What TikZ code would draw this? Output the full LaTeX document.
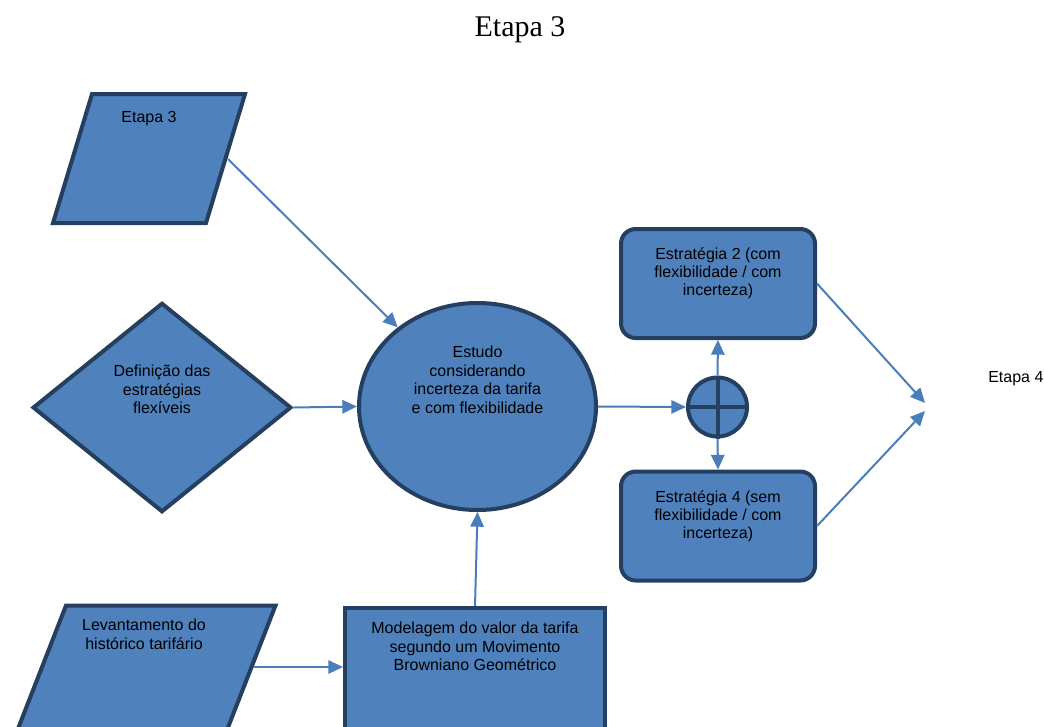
\documentclass[tikz,border=0pt]{standalone}
\usepackage{fontspec}
\setmainfont{Liberation Sans}
\newfontfamily\titlefont{Liberation Serif}
\usepackage{tikz}
\usetikzlibrary{positioning, shapes.geometric, arrows.meta}
\usepackage{xcolor}
\definecolor{boxfill}{RGB}{79, 129, 189}
\definecolor{boxline}{RGB}{36, 63, 96}
\definecolor{arrowblue}{RGB}{74, 126, 187}

\tikzset{
  blk/.style={fill=boxfill, draw=boxline, line width=3pt, inner sep=0pt},
  txt/.style={font={\fontsize{12}{13.8}\selectfont}, align=center, inner sep=0pt, anchor=north},
  flow/.style={draw=arrowblue, line width=1.5pt, -{Triangle[length=11pt,width=10pt]}}
}

\begin{document}
\begin{tikzpicture}[x=0.75pt, y=-0.75pt]
        \useasboundingbox (0,0) rectangle (1044,726);

        % ---- TITULO ----
        \node[font={\titlefont\fontsize{22.5}{27}\selectfont}, anchor=base] (titulo) at (520,36) {Etapa 3};

        % ---- ENTRADAS ----
        \draw[blk] (53,223) -- (92,94) -- (245,94) -- (206,223) -- cycle;
        \node[txt] (etapa3) at (149,111) {Etapa 3};
        \coordinate (e3out) at (228,159);

        \node[blk, diamond, minimum width=194pt, minimum height=157pt] (defin) at (162,407.5) {};
        \node[txt] (defintxt) at (162,365) {Definição das\\estratégias\\flexíveis};

        \draw[blk] (66,605.5) -- (275.5,605.5) -- (220,748) -- (10.5,748) -- cycle;
        \node[txt] (levtxt) at (144,619) {Levantamento do\\histórico tarifário};
        \coordinate (levout) at (254,667);

        \node[blk, minimum width=195pt, minimum height=102.75pt] (modelo) at (475,676.5) {};
        \node[txt] (modelotxt) at (475,622) {Modelagem do valor da tarifa\\segundo um Movimento\\Browniano Geométrico};

        % ---- ESTUDO ----
        \node[blk, ellipse, minimum width=177.75pt, minimum height=155.25pt] (estudo) at (477.5,406.5) {};
        \node[txt] (estudotxt) at (477.5,346) {Estudo\\considerando\\incerteza da tarifa\\e com flexibilidade};

        \node[blk, circle, minimum size=44.25pt] (soma) at (717.5,407) {};
        \draw[boxline, line width=3pt] (soma.north) -- (soma.south) (soma.west) -- (soma.east);

        % ---- ESTRATEGIAS ----
        \node[blk, rounded corners=11pt, minimum width=145.5pt, minimum height=81.75pt] (estr2) at (718,283.5) {};
        \node[txt] (estr2txt) at (718,247) {Estratégia 2 (com\\flexibilidade / com\\incerteza)};

        \node[blk, rounded corners=11pt, minimum width=145.5pt, minimum height=81.75pt] (estr4) at (718,526) {};
        \node[txt] (estr4txt) at (718,490) {Estratégia 4 (sem\\flexibilidade / com\\incerteza)};

        \node[font={\fontsize{12}{13.8}\selectfont}, anchor=base west, inner sep=0pt] (etapa4) at (988,382) {Etapa 4};
        \coordinate (conv1) at (925,403);
        \coordinate (conv2) at (925,411);

        % ---- SETAS ----
        \draw[flow] (e3out) -- (estudo);
        \draw[flow] (defin.east) -- (estudo.west);
        \draw[flow] (levout) -- (levout -| modelo.west);
        \draw[flow] (modelo.north) -- (estudo.south);
        \draw[flow] (estudo.east) -- (soma.west);
        \draw[flow] (soma.north) -- (estr2.south);
        \draw[flow] (soma.south) -- (estr4.north);
        \draw[flow] (estr2.east) -- (conv1);
        \draw[flow] (estr4.east) -- (conv2);
      \end{tikzpicture}
\end{document}
